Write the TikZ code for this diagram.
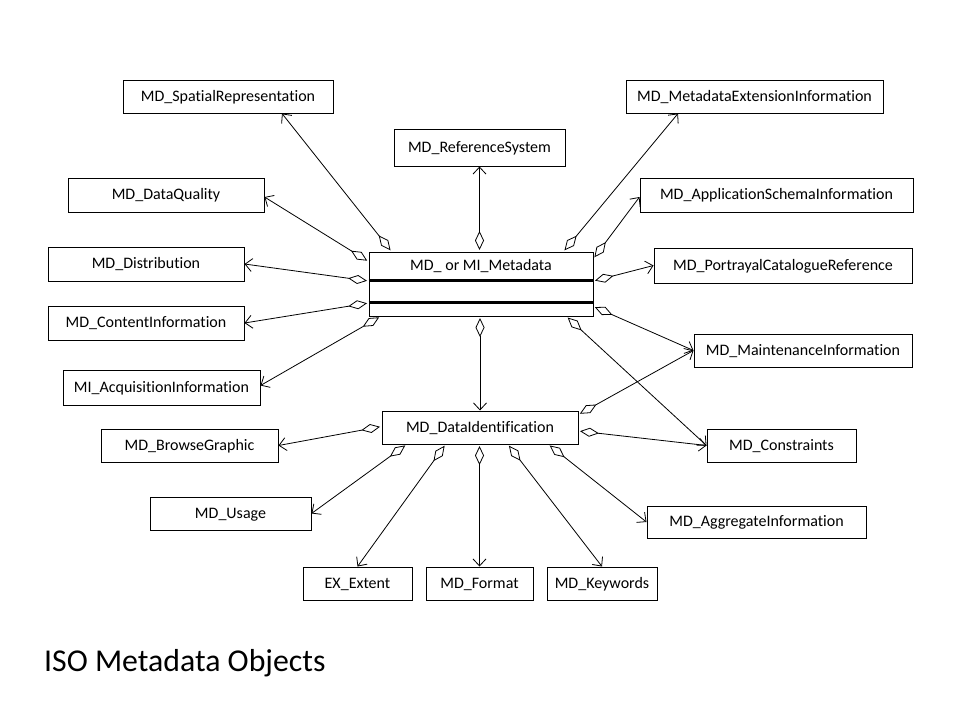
\documentclass[tikz,border=0pt]{standalone}
\usepackage{fontspec}
\setmainfont{Carlito}[Ligatures=NoCommon]
\usetikzlibrary{arrows.meta,calc}
\tikzset{
  cls/.style={draw=black, line width=1pt, fill=white, inner sep=0pt,
    font=\fontsize{16}{19}\selectfont, text height=0.98em, text depth=0pt},
  agg/.style={line width=0.8pt, shorten <=1.5pt,
    {Diamond[open,length=19pt,width=9pt,line width=0.8pt]}-{Straight Barb[length=7pt,width=13pt,line width=0.8pt]}}
}
\begin{document}
\begin{tikzpicture}[x=1pt,y=-1pt]
\fill[white] (0,0) rectangle (960,720);
\useasboundingbox (0,0) rectangle (960,720);

% classes
\node[cls, minimum width=210pt, minimum height=33pt] (sp) at (228,96.5) {MD\_SpatialRepresentation};
\node[cls, minimum width=257pt, minimum height=33pt] (mx) at (754.5,96.5) {MD\_MetadataExtensionInformation};
\node[cls, minimum width=171pt, minimum height=37pt] (rs) at (479.5,147.5) {MD\_ReferenceSystem};
\node[cls, minimum width=196pt, minimum height=34pt] (dq) at (166,195) {MD\_DataQuality};
\node[cls, minimum width=273pt, minimum height=34pt] (as) at (776.5,195) {MD\_ApplicationSchemaInformation};
\node[cls, minimum width=196pt, minimum height=34pt] (di) at (146,264) {MD\_Distribution};
\node[cls, minimum width=258pt, minimum height=35pt] (pc) at (783,265.5) {MD\_PortrayalCatalogueReference};
\node[cls, minimum width=196pt, minimum height=34pt] (ci) at (146,323) {MD\_ContentInformation};
\node[cls, minimum width=218pt, minimum height=33pt] (mi) at (803,350.5) {MD\_MaintenanceInformation};
\node[cls, minimum width=197pt, minimum height=35pt] (aq) at (161.5,387.5) {MI\_AcquisitionInformation};
\node[cls, minimum width=196pt, minimum height=33pt] (id) at (480,427.5) {MD\_DataIdentification};
\node[cls, minimum width=177pt, minimum height=33pt] (bg) at (189.5,445.5) {MD\_BrowseGraphic};
\node[cls, minimum width=149pt, minimum height=33pt] (co) at (781.5,445.5) {MD\_Constraints};
\node[cls, minimum width=161pt, minimum height=33pt] (us) at (230.5,513.5) {MD\_Usage};
\node[cls, minimum width=219pt, minimum height=32pt] (ag) at (756.5,522) {MD\_AggregateInformation};
\node[cls, minimum width=109pt, minimum height=33pt] (ex) at (357.5,583.5) {EX\_Extent};
\node[cls, minimum width=107pt, minimum height=33pt] (fo) at (479.5,583.5) {MD\_Format};
\node[cls, minimum width=110pt, minimum height=33pt] (kw) at (602,583.5) {MD\_Keywords};

% central class with compartments
\node[cls, minimum width=224pt, minimum height=64pt] (meta) at (481,284) {};
\node[font=\fontsize{16}{19}\selectfont, text height=0.98em, text depth=0pt, inner sep=0pt] (metaname) at ([yshift=-14.5pt]meta.north) {MD\_ or MI\_Metadata};
\draw[line width=2.5pt] ([yshift=-29pt]meta.north west) -- ([yshift=-29pt]meta.north east);
\draw[line width=2.5pt] ([yshift=-51pt]meta.north west) -- ([yshift=-51pt]meta.north east);

% aggregations from the metadata class
\draw[agg] ([xshift=23pt]meta.north west) -- ([xshift=54pt]sp.south);
\draw[agg] (rs.south |- meta.north) -- (rs.south);
\draw[agg] ([xshift=-30pt]meta.north east) -- ([xshift=-76.5pt]mx.south);
\draw[agg] ([yshift=-7pt]meta.north east) -- ([yshift=-2pt]as.west);
\draw[agg] ([yshift=3pt]meta.east) -- (pc.west);
\draw[agg] ([yshift=10pt]meta.south east) -- (mi.west);
\draw[agg] ([xshift=-27pt]meta.south east) -- (co.west);
\draw[agg] (id.north |- meta.south) -- (id.north);
\draw[agg] ([xshift=12pt]meta.south west) -- ([yshift=2pt]aq.east);
\draw[agg] ([yshift=-19pt]meta.west) -- (ci.east);
\draw[agg] ([yshift=3pt]meta.west) -- (di.east);
\draw[agg] ([yshift=-10pt]meta.north west) -- ([yshift=-2pt]dq.east);

% aggregations from the data identification class
\draw[agg] ([yshift=1pt]id.west) -- (bg.east);
\draw[agg] ([xshift=25pt]id.south west) -- (us.east);
\draw[agg] ([xshift=64pt]id.south west) -- (ex.north);
\draw[agg] (fo.north |- id.south) -- (fo.north);
\draw[agg] ([xshift=28pt]id.south) -- (kw.north);
\draw[agg] ([xshift=-30pt]id.south east) -- (ag.west);
\draw[agg] ([yshift=-3.5pt]id.east) -- (co.west);
\draw[agg] ([yshift=-4pt]id.north east) -- (mi.west);

% title
\node[anchor=base west, inner sep=0pt, font=\fontsize{31.8}{36}\selectfont] (title) at (44,671) {ISO Metadata Objects};
\end{tikzpicture}
\end{document}
